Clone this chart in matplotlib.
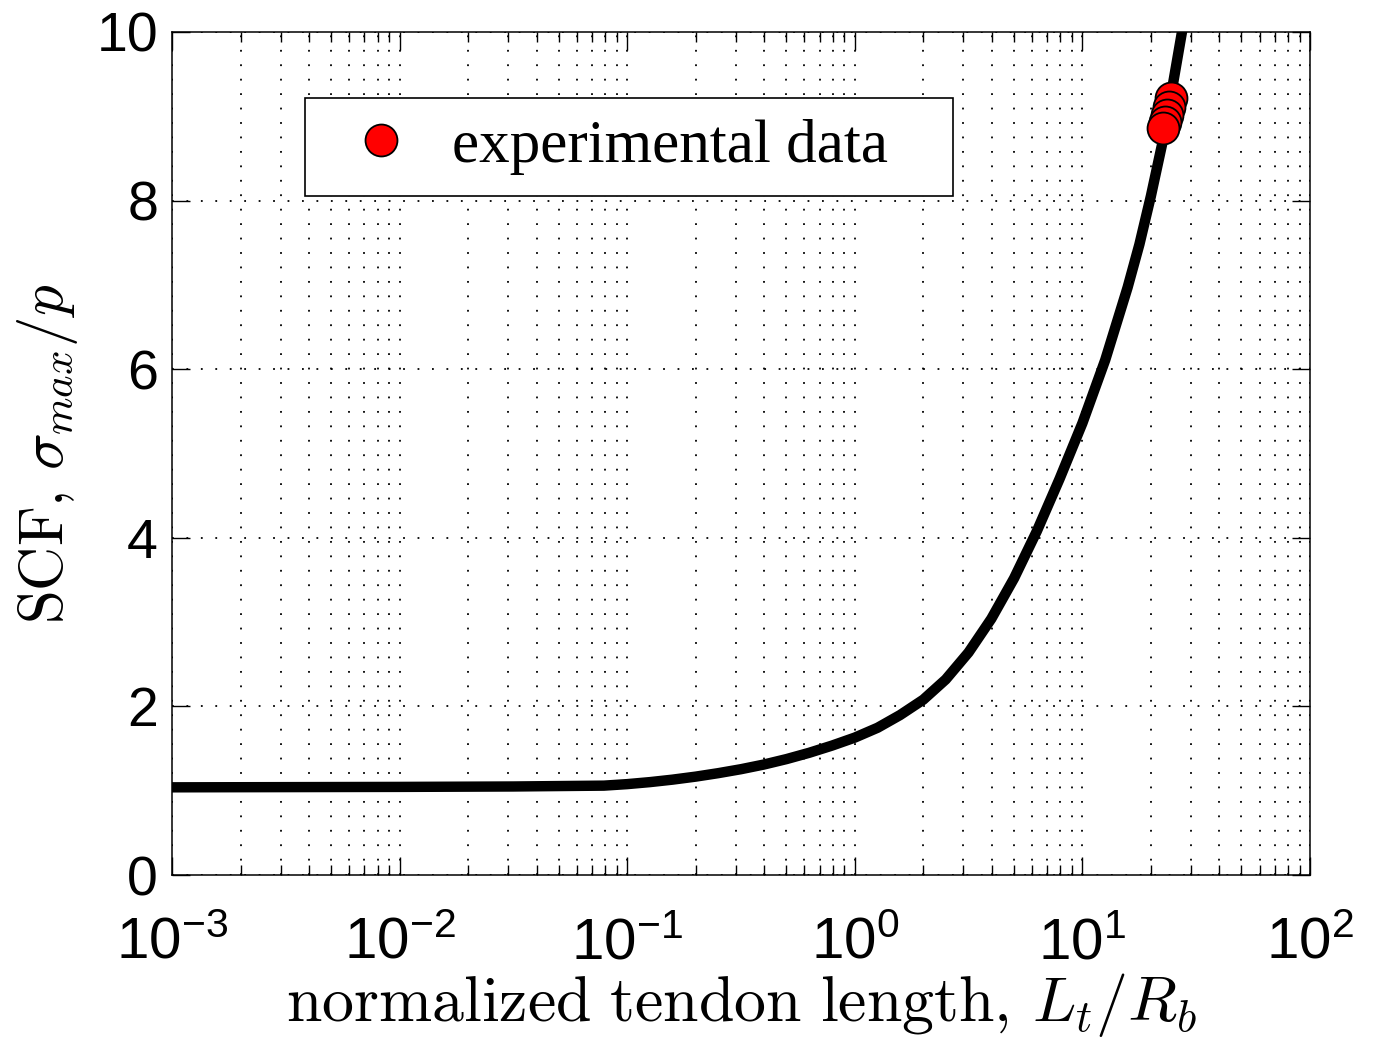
import numpy as np
import matplotlib
matplotlib.use("Agg")
import matplotlib.pyplot as plt
from matplotlib.ticker import LogLocator, NullFormatter

# ---- data ----
curve_x = [0.001, 0.01, 0.0316, 0.079, 0.1, 0.126, 0.158, 0.2, 0.251, 0.316, 0.398,
           0.501, 0.631, 0.794, 1.0, 1.26, 1.58, 2.0, 2.51, 3.16, 3.98, 5.01, 6.31,
           7.94, 10.0, 12.6, 15.8, 17.8, 20.0, 22.4, 25.1, 27.5]
curve_y = [1.04, 1.045, 1.05, 1.06, 1.078, 1.102, 1.131, 1.167, 1.208, 1.255, 1.31,
           1.375, 1.45, 1.535, 1.63, 1.747, 1.897, 2.08, 2.32, 2.64, 3.04, 3.52, 4.08,
           4.70, 5.36, 6.11, 6.97, 7.48, 8.055, 8.67, 9.41, 10.03]
exp_x = [24.6, 24.1, 23.6, 23.1, 22.6]
exp_y = [9.22, 9.11, 9.01, 8.93, 8.86]
legend_label = "experimental data"
xlabel = r"$\mathrm{normalized\ tendon\ length,}\,L_t/R_b$"
ylabel = r"$\mathrm{SCF,}\,\sigma_{max}/p$"
yticks = [0, 2, 4, 6, 8, 10]
xticks = [1e-3, 1e-2, 1e-1, 1e0, 1e1, 1e2]

plt.rcParams['font.family'] = ['Liberation Sans', 'DejaVu Sans']
plt.rcParams['mathtext.fontset'] = 'custom'
plt.rcParams['mathtext.rm'] = 'Liberation Sans'
plt.rcParams['mathtext.it'] = 'Liberation Sans:italic'
plt.rcParams['mathtext.bf'] = 'Liberation Sans:bold'

W, H = 1375, 1044
fig = plt.figure(figsize=(W / 100, H / 100), dpi=100)
L, R, T, B = 172, 1310, 32, 875
ax = fig.add_axes([L / W, 1 - B / H, (R - L) / W, (B - T) / H])

ax.set_xscale('log')
ax.set_xlim(1e-3, 1e2)
ax.set_ylim(0, 10)

ax.xaxis.set_minor_locator(LogLocator(base=10, subs=np.arange(2, 10), numticks=50))
ax.xaxis.set_minor_formatter(NullFormatter())
ax.set_xticks(xticks)
ax.set_yticks(yticks)
gkw = dict(color='black', linestyle=(0, (1, 7)), linewidth=1.3)
ax.grid(True, which='major', axis='both', **gkw)
ax.grid(True, which='minor', axis='x', **gkw)
ax.set_axisbelow(True)

ax.plot(curve_x, curve_y, color='black', linewidth=7.5, solid_joinstyle='round', zorder=3)
ax.plot(exp_x, exp_y, linestyle='none', marker='o', markersize=23,
        markerfacecolor='red', markeredgecolor='black', markeredgewidth=1.3,
        zorder=4, label=legend_label)

for s in ax.spines.values():
    s.set_linewidth(1.1)

ax.tick_params(which='both', direction='in', top=True, right=True, width=1.0)
ax.tick_params(which='major', length=13)
ax.tick_params(which='minor', length=7)
ax.tick_params(axis='x', which='major', labelsize=42, pad=30)
ax.tick_params(axis='y', which='major', labelsize=40, pad=10)

ax.set_xlabel(xlabel, fontsize=46, math_fontfamily='cm', labelpad=0)
ax.set_ylabel(ylabel, fontsize=44, math_fontfamily='cm', labelpad=12)

leg = ax.legend(loc='upper left', bbox_to_anchor=(305 / W, 1 - 196 / H, 648 / W, 98 / H),
                bbox_transform=fig.transFigure, borderaxespad=0, mode='expand',
                frameon=True, fancybox=False, shadow=False, framealpha=1,
                edgecolor='black', prop={'family': 'Liberation Serif', 'size': 44},
                handlelength=1.81, handletextpad=0.26, borderpad=0.34,
                markerscale=1.0, numpoints=1)
leg.get_frame().set_linewidth(1.2)

fig.savefig('out.png', dpi=100)
